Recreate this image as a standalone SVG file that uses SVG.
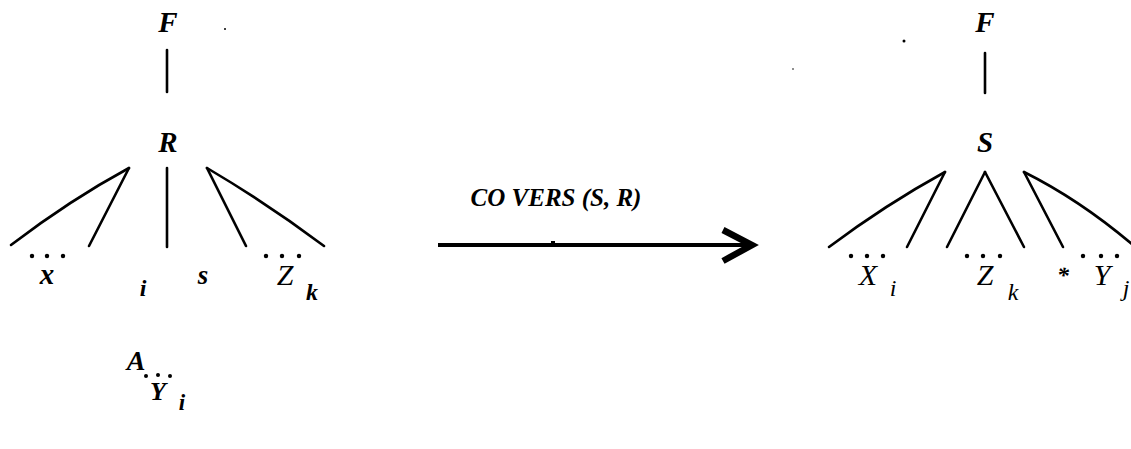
<svg xmlns="http://www.w3.org/2000/svg" width="1131" height="449" viewBox="0 0 1131 449">
<style>
.t{font-family:"Liberation Serif","Times New Roman",serif;font-style:italic;fill:#000}
.b{font-weight:bold}
.c{text-anchor:middle}
.ln{stroke:#000;stroke-width:2.6;fill:none;stroke-linecap:round}
.dot{fill:#000}
</style>
<rect width="1131" height="449" fill="#fff"/>
<g id="connectors">
  <line class="ln" x1="167" y1="50" x2="167" y2="92"/>
  <path class="ln" d="M129,168 Q70,200 11,245"/>
  <line class="ln" x1="129" y1="168" x2="89" y2="246"/>
  <line class="ln" x1="167" y1="168" x2="167" y2="247"/>
  <line class="ln" x1="207" y1="168" x2="246" y2="246"/>
  <path class="ln" d="M207,168 Q268,204 324,246"/>
  <line class="ln" x1="985" y1="53" x2="985" y2="93"/>
  <path class="ln" d="M945,172 Q885,205 829,247"/>
  <line class="ln" x1="945" y1="172" x2="907" y2="247"/>
  <line class="ln" x1="985" y1="172" x2="947" y2="247"/>
  <line class="ln" x1="985" y1="172" x2="1024" y2="247"/>
  <line class="ln" x1="1024" y1="172" x2="1063" y2="247"/>
  <path class="ln" d="M1024,172 Q1080,200 1133,245"/>
  <g id="arrow">
    <line x1="438" y1="245" x2="748" y2="245" stroke="#000" stroke-width="4"/>
    <polyline points="723,230 752,245 723,261" fill="none" stroke="#000" stroke-width="6.5" stroke-linejoin="miter"/>
    <rect x="551" y="241" width="4" height="3" fill="#000"/>
  </g>
</g>
<g id="left-tree">
  <g id="nF1"><text class="t b c" x="168" y="32" font-size="29">F</text></g>
  <g id="nR"><text class="t b c" x="168" y="152" font-size="29">R</text></g>
  <g id="nX1">
    <circle class="dot" cx="32" cy="256" r="2.2"/><circle class="dot" cx="47" cy="256" r="2.2"/><circle class="dot" cx="63" cy="256" r="2.2"/>
    <text class="t b c" x="47" y="284" font-size="29">x</text>
  </g>
  <g id="ni1"><text class="t b c" x="143" y="296" font-size="24">i</text></g>
  <g id="ns"><text class="t b c" x="203" y="284" font-size="27">s</text></g>
  <g id="nZ1">
    <circle class="dot" cx="266" cy="256" r="2.2"/><circle class="dot" cx="282" cy="256" r="2.2"/><circle class="dot" cx="299" cy="256" r="2.2"/>
    <text class="t c" x="285" y="285" font-size="30">Z</text>
    <text class="t b c" x="312" y="300" font-size="24">k</text>
  </g>
</g>
<g id="transform-label"><text class="t b c" x="556" y="206" font-size="25">CO VERS (S, R)</text></g>
<g id="right-tree">
  <g id="nF2"><text class="t b c" x="985" y="32" font-size="29">F</text></g>
  <g id="nS"><text class="t b c" x="985" y="152" font-size="29">S</text></g>
  <g id="nX2">
    <circle class="dot" cx="851" cy="256" r="2.2"/><circle class="dot" cx="867" cy="256" r="2.2"/><circle class="dot" cx="883" cy="256" r="2.2"/>
    <text class="t c" x="868" y="285" font-size="30">X</text>
    <text class="t c" x="893" y="296" font-size="24">i</text>
  </g>
  <g id="nZ2">
    <circle class="dot" cx="967" cy="256" r="2.2"/><circle class="dot" cx="983" cy="256" r="2.2"/><circle class="dot" cx="1000" cy="256" r="2.2"/>
    <text class="t c" x="985" y="285" font-size="30">Z</text>
    <text class="t c" x="1013" y="300" font-size="24">k</text>
  </g>
  <g id="nStar"><text class="t b c" x="1063" y="283" font-size="24">*</text></g>
  <g id="nY2">
    <circle class="dot" cx="1083" cy="256" r="2.2"/><circle class="dot" cx="1101" cy="256" r="2.2"/><circle class="dot" cx="1117" cy="256" r="2.2"/>
    <text class="t c" x="1102" y="285" font-size="30">Y</text>
    <text class="t c" x="1126" y="296" font-size="24">j</text>
  </g>
</g>
<g id="bottom-note">
  <text class="t b c" x="136" y="370" font-size="28">A</text>
  <circle class="dot" cx="146" cy="376" r="2"/><circle class="dot" cx="158" cy="375" r="2"/><circle class="dot" cx="170" cy="376" r="2"/>
  <text class="t b c" x="158" y="400" font-size="26">Y</text>
  <text class="t b c" x="182" y="410" font-size="23">i</text>
</g>
<g id="specks">
  <circle cx="225" cy="29" r="1" fill="#000"/>
  <circle cx="904" cy="41" r="1.5" fill="#000"/>
  <circle cx="793" cy="69" r="0.8" fill="#000"/>
</g>
</svg>
